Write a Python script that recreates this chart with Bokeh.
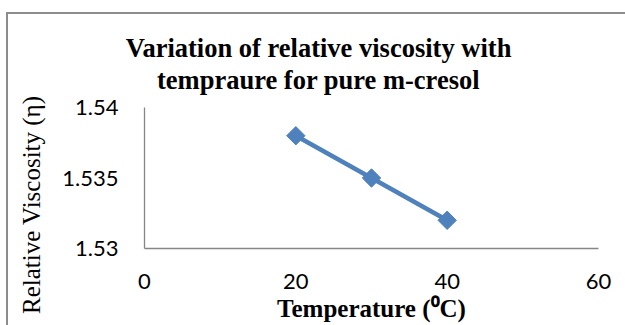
import math
from bokeh.plotting import figure
from bokeh.models import FixedTicker, Range1d, LinearAxis
from bokeh.embed import file_html
from bokeh.resources import INLINE

# ---- data ----
temperature = [20, 30, 40]
viscosity = [1.538, 1.535, 1.532]
x_ticks = [0, 20, 40, 60]
y_ticks = [1.53, 1.535, 1.54]
y_tick_labels = ["1.53", "1.535", "1.54"]
title_lines = ["Variation of relative viscosity with", "tempraure for pure m-cresol"]
x_title = "Temperature (\u2070C)"
y_title = "Relative Viscosity (\u03b7)"

# ---- layout constants ----
W, H = 625, 325
L, R, T, B = 144, 27, 107, 77
TITLE_X = 23        # data x where the chart title is centred
YTITLE_Y = 1.5331   # data y where the value-axis title is centred

p = figure(width=W, height=H, output_backend="svg", toolbar_location=None,
           x_range=Range1d(0, 60), y_range=Range1d(1.53, 1.54),
           min_border_left=L, min_border_right=R, min_border_top=T, min_border_bottom=B)
p.background_fill_color = "white"
p.border_fill_color = None
p.outline_line_color = None
p.xgrid.visible = False
p.ygrid.visible = False
# outer chart-area border (only its top and left edges fall inside the window)
p.styles = {
    "background-color": "white",
    "background-image": "linear-gradient(#8c8c8c, #8c8c8c), linear-gradient(#8c8c8c, #8c8c8c)",
    "background-size": "100% 2px, 2px 100%",
    "background-position": "6px 12px, 6px 12px",
    "background-repeat": "no-repeat",
}


def plain(ax):
    ax.major_tick_line_color = None
    ax.minor_tick_line_color = None
    ax.major_tick_in = 0
    ax.major_tick_out = 0
    ax.minor_tick_in = 0
    ax.minor_tick_out = 0
    ax.major_label_text_color = "black"


axis_color = "#868686"
for ax in (p.xaxis[0], p.yaxis[0]):
    plain(ax)
    ax.axis_line_color = axis_color
    ax.axis_line_width = 1.3
    ax.major_label_text_font = "Lato"
    ax.major_label_text_font_size = "22px"

p.xaxis.ticker = FixedTicker(ticks=x_ticks)
p.xaxis.major_label_standoff = 25
p.xaxis.axis_label = x_title
p.xaxis.axis_label_text_font = "Liberation Serif"
p.xaxis.axis_label_text_font_style = "bold"
p.xaxis.axis_label_text_font_size = "25px"
p.xaxis.axis_label_text_color = "black"
p.xaxis.axis_label_standoff = 3

p.yaxis.ticker = FixedTicker(ticks=y_ticks)
p.yaxis.major_label_overrides = {t: s for t, s in zip(y_ticks, y_tick_labels)}
p.yaxis.major_label_standoff = 26

# chart title, drawn as the single label of an extra top axis
tax = LinearAxis(ticker=FixedTicker(ticks=[TITLE_X]),
                 major_label_overrides={TITLE_X: "\n".join(title_lines)})
plain(tax)
tax.axis_line_color = None
tax.major_label_text_font = "Liberation Serif"
tax.major_label_text_font_style = "bold"
tax.major_label_text_font_size = "26.5px"
tax.major_label_text_line_height = 1.05
tax.major_label_standoff = 13
p.add_layout(tax, "above")

# value-axis title, as the single label of an extra left axis
yax = LinearAxis(ticker=FixedTicker(ticks=[YTITLE_Y]),
                 major_label_overrides={YTITLE_Y: y_title})
plain(yax)
yax.axis_line_color = None
yax.major_label_orientation = "parallel"
yax.major_label_text_font = "Liberation Serif"
yax.major_label_text_font_size = "25px"
yax.major_label_standoff = 14
p.add_layout(yax, "left")

# series
color = "#4F81BD"
p.line(temperature, viscosity, line_color=color, line_width=4.5)
p.scatter(temperature, viscosity, marker="square", angle=math.pi / 4, size=13,
          fill_color=color, line_color=color)

open("out.html", "w").write(file_html(p, INLINE))
